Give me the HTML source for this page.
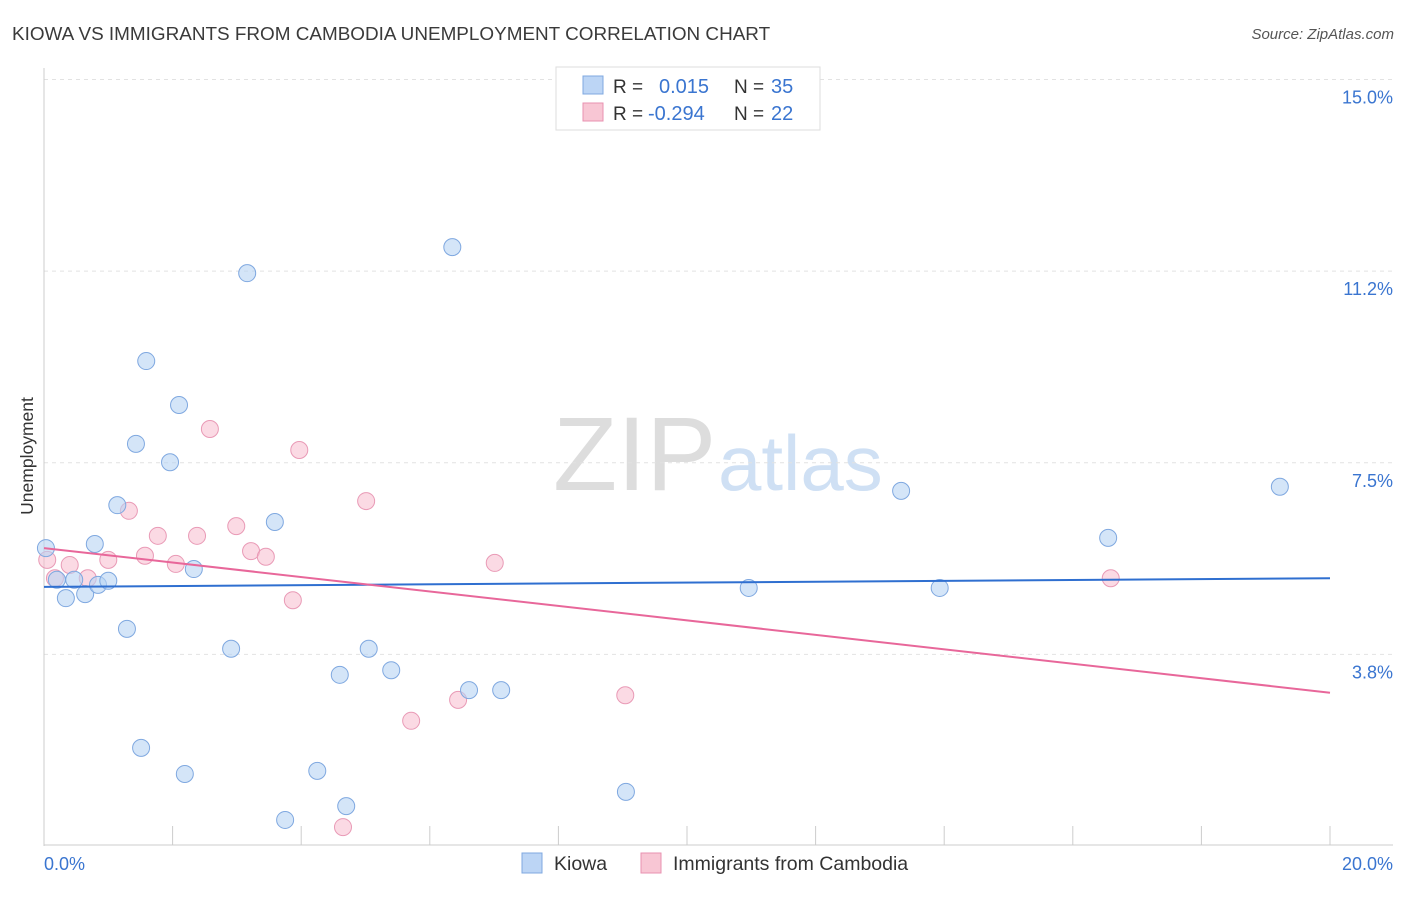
<!DOCTYPE html>
<html><head><meta charset="utf-8"><style>
body{margin:0;background:#fff;font-family:"Liberation Sans",sans-serif;}
svg text{font-family:"Liberation Sans",sans-serif;}
</style></head><body>
<svg id="chart" width="1406" height="892" xmlns="http://www.w3.org/2000/svg">
<text x="12" y="40" font-size="18.9" fill="#3a3a3a">KIOWA VS IMMIGRANTS FROM CAMBODIA UNEMPLOYMENT CORRELATION CHART</text>
<text x="1394" y="39" font-size="15" fill="#555" text-anchor="end" font-style="italic">Source: ZipAtlas.com</text>
<text x="553" y="490" font-size="105" fill="#ddd" font-family="Liberation Serif, serif">ZIP</text>
<text x="718" y="490" font-size="78" fill="#cfe0f4">atlas</text>
<text transform="translate(33,456) rotate(-90)" font-size="17.5" fill="#333" text-anchor="middle">Unemployment</text>
<g id="grid"></g>
<g id="axes"></g>
<g id="marks"></g>
<g>
<rect x="556" y="67" width="264" height="63" fill="#fff" stroke="#ddd"/>
<rect x="583" y="76" width="20" height="18" fill="#bcd5f5" stroke="#7fa8e0"/>
<text x="613" y="93" font-size="19" fill="#333">R =</text>
<text x="659" y="93" font-size="20" fill="#3a75d0">0.015</text>
<text x="734" y="93" font-size="19" fill="#333">N =</text>
<text x="771" y="93" font-size="20" fill="#3a75d0">35</text>
<rect x="583" y="103" width="20" height="18" fill="#f8c6d4" stroke="#e891b0"/>
<text x="613" y="120" font-size="19" fill="#333">R =</text>
<text x="648" y="120" font-size="20" fill="#3a75d0">-0.294</text>
<text x="734" y="120" font-size="19" fill="#333">N =</text>
<text x="771" y="120" font-size="20" fill="#3a75d0">22</text>
</g>
<g>
<rect x="522" y="853" width="20" height="20" fill="#bcd5f5" stroke="#7fa8e0"/>
<text x="554" y="870" font-size="19.5" fill="#333">Kiowa</text>
<rect x="641" y="853" width="20" height="20" fill="#f8c6d4" stroke="#e891b0"/>
<text x="673" y="870" font-size="19.5" fill="#333">Immigrants from Cambodia</text>
</g>
</svg>
<script>
const blueX=[0.03,0.20,0.34,0.47,0.64,0.79,0.84,1.00,1.14,1.29,1.43,1.51,1.59,1.96,2.10,2.19,2.33,2.91,3.16,3.59,3.75,4.25,4.60,4.70,5.05,5.40,6.35,6.61,7.11,9.05,10.96,13.33,13.93,16.55,19.22];
const blueY=[5.83,5.21,4.85,5.21,4.93,5.91,5.11,5.19,6.67,4.25,7.87,1.92,9.49,7.51,8.63,1.41,5.42,3.86,11.21,6.34,0.51,1.47,3.35,0.78,3.86,3.44,11.72,3.05,3.05,1.06,5.05,6.95,5.05,6.03,7.03];
const pinkX=[0.05,0.17,0.40,0.68,1.00,1.32,1.57,1.77,2.05,2.38,2.58,2.99,3.22,3.45,3.87,3.97,4.65,5.01,5.71,6.44,7.01,9.04,16.59];
const pinkY=[5.60,5.24,5.50,5.24,5.60,6.56,5.68,6.07,5.52,6.07,8.16,6.26,5.77,5.66,4.81,7.75,0.37,6.75,2.45,2.86,5.54,2.95,5.24];
const blueTrend=[5.07,5.24];
const pinkTrend=[5.83,3.00];
const yTicks=[15.0,11.25,7.5,3.75];
const yTickLabels=["15.0%","11.2%","7.5%","3.8%"];
const xTicks=[0,2,4,6,8,10,12,14,16,18,20];
const NS="http://www.w3.org/2000/svg";
const X=v=>44+v*64.3, Y=v=>846-v*51.1;
function mk(tag,attrs,parent){const e=document.createElementNS(NS,tag);for(const k in attrs)e.setAttribute(k,attrs[k]);parent.appendChild(e);return e;}
const grid=document.getElementById('grid'),axes=document.getElementById('axes'),marks=document.getElementById('marks');
yTicks.forEach((t,i)=>{
 const l=mk('line',{x1:44,x2:1393,y1:Y(t),y2:Y(t),stroke:'#e2e2e2','stroke-dasharray':'4,4'},grid);
 
 
 const tx=mk('text',{x:1393,y:Y(t)+24,'font-size':18,fill:'#3a75d0','text-anchor':'end'},axes);
 tx.textContent=yTickLabels[i];
 
 
});
mk('line',{x1:44,x2:44,y1:68,y2:846,stroke:'#ccc'},axes);
mk('line',{x1:44,x2:1393,y1:845,y2:845,stroke:'#ccc'},axes);
xTicks.forEach(t=>{const l=mk('line',{x1:X(t),x2:X(t),y1:826,y2:845,stroke:'#ccc'},axes);
 
 });
let t0=mk('text',{x:44,y:870,'font-size':18,fill:'#3a75d0'},axes);t0.textContent='0.0%';


let t1=mk('text',{x:1393,y:870,'font-size':18,fill:'#3a75d0','text-anchor':'end'},axes);t1.textContent='20.0%';


pinkX.forEach((v,i)=>{const c=mk('circle',{cx:X(v),cy:Y(pinkY[i]),r:8.5,fill:'rgba(247,188,206,0.55)',stroke:'#e99ab6','stroke-width':1},marks);
 
 });
blueX.forEach((v,i)=>{const c=mk('circle',{cx:X(v),cy:Y(blueY[i]),r:8.5,fill:'rgba(184,212,244,0.6)',stroke:'#7fa8e0','stroke-width':1},marks);
 
 });
const bl=mk('line',{x1:X(0),x2:X(20),y1:Y(blueTrend[0]),y2:Y(blueTrend[1]),stroke:'#2f6fd0','stroke-width':2},marks);


const pl=mk('line',{x1:X(0),x2:X(20),y1:Y(pinkTrend[0]),y2:Y(pinkTrend[1]),stroke:'#e8679a','stroke-width':2},marks);


</script>
</body></html>
